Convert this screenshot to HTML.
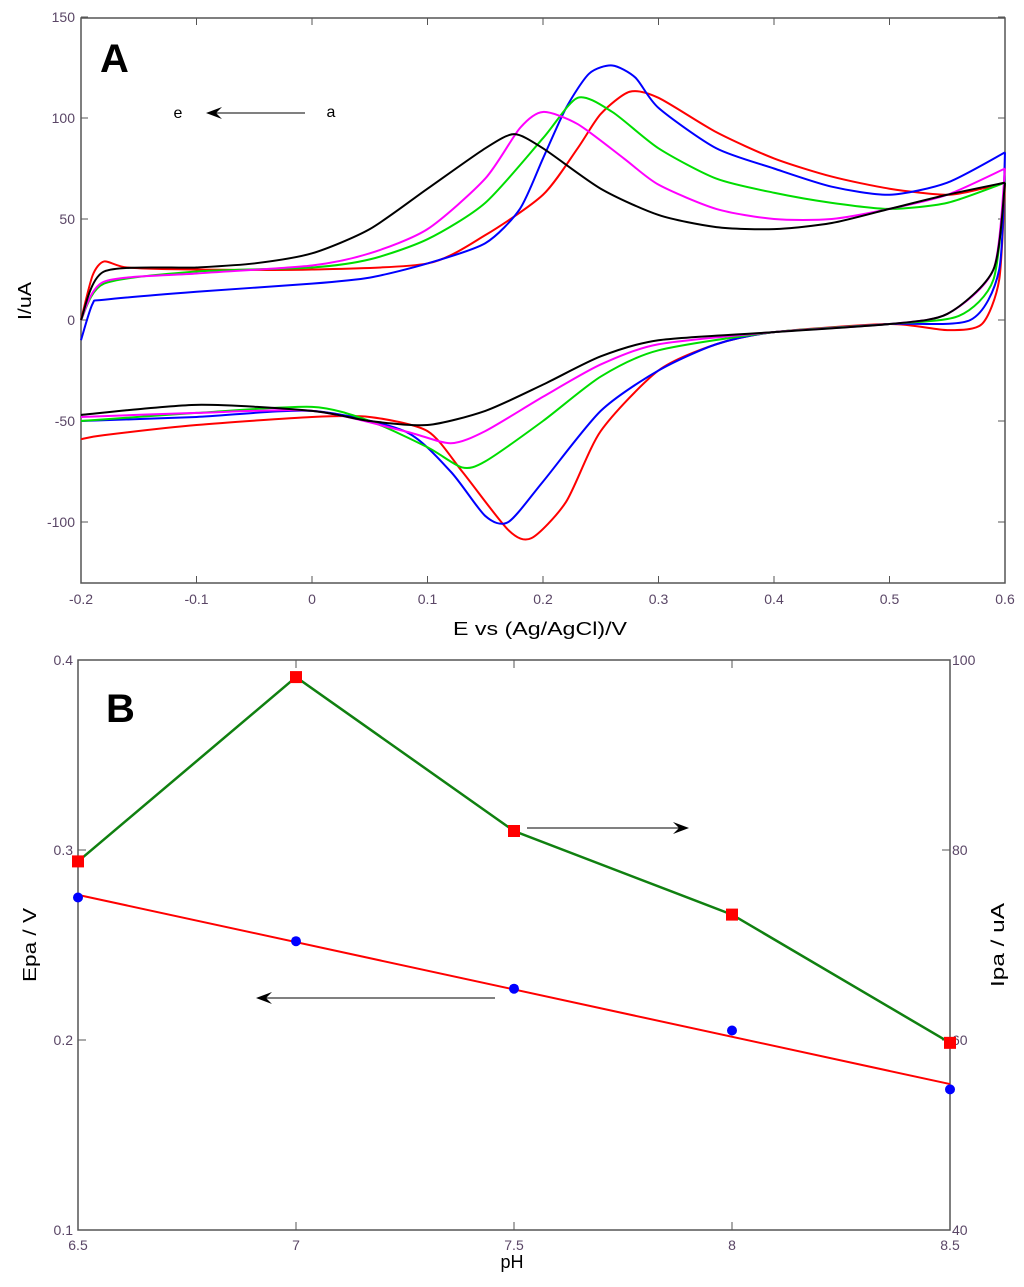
<!DOCTYPE html>
<html><head><meta charset="utf-8"><style>
body{margin:0;background:#fff;font-family:"Liberation Sans",sans-serif}
svg text{font-family:"Liberation Sans",sans-serif}
</style></head><body>
<svg id="chart" width="1024" height="1282" xmlns="http://www.w3.org/2000/svg">
<g id="pa"></g>
<g id="pb"></g>
</svg>
<script>
// Panel A data
const aXTicks=[-0.2,-0.1,0,0.1,0.2,0.3,0.4,0.5,0.6];
const aYTicks=[-100,-50,0,50,100,150];
const cvColors=["#ff0000","#0000ff","#00dd00","#ff00ff","#000000"];
const cvNames=["cv-a","cv-b","cv-c","cv-d","cv-e"];
const cvA=[[-0.2,0],[-0.19,22],[-0.18,29],[-0.16,26],[-0.1,25],[0,25],[0.1,28],[0.15,42],[0.2,62],[0.23,85],[0.25,102],[0.275,113],[0.3,110],[0.35,93],[0.4,80],[0.45,71],[0.5,65],[0.55,62],[0.58,65],[0.6,68],[0.595,20],[0.58,-2],[0.55,-5],[0.5,-2],[0.4,-6],[0.35,-12],[0.3,-25],[0.25,-55],[0.22,-90],[0.19,-108],[0.17,-104],[0.13,-75],[0.1,-55],[0.05,-48],[0,-48],[-0.1,-52],[-0.18,-57],[-0.2,-59]];
const cvB=[[-0.2,-10],[-0.19,8],[-0.18,10],[-0.1,14],[0,18],[0.05,21],[0.1,28],[0.15,38],[0.18,55],[0.2,80],[0.22,105],[0.24,122],[0.26,126],[0.28,120],[0.3,105],[0.35,85],[0.4,75],[0.45,66],[0.5,62],[0.55,68],[0.6,83],[0.595,25],[0.57,0],[0.5,-2],[0.4,-6],[0.35,-12],[0.3,-25],[0.25,-45],[0.2,-80],[0.17,-100],[0.15,-97],[0.12,-75],[0.08,-55],[0,-45],[-0.1,-48],[-0.2,-50]];
const cvC=[[-0.2,0],[-0.18,18],[-0.1,24],[0,26],[0.05,30],[0.1,40],[0.15,58],[0.2,90],[0.23,110],[0.26,103],[0.3,85],[0.35,70],[0.4,63],[0.45,58],[0.5,55],[0.55,58],[0.6,68],[0.59,20],[0.56,2],[0.5,-2],[0.4,-6],[0.3,-15],[0.25,-28],[0.2,-50],[0.15,-70],[0.13,-73],[0.1,-63],[0.05,-50],[0,-43],[-0.1,-46],[-0.2,-50]];
const cvD=[[-0.2,0],[-0.18,19],[-0.1,23],[0,27],[0.05,33],[0.1,45],[0.15,70],[0.18,95],[0.2,103],[0.23,97],[0.27,80],[0.3,67],[0.35,55],[0.4,50],[0.45,50],[0.5,55],[0.55,62],[0.6,75],[0.59,25],[0.55,3],[0.5,-2],[0.4,-6],[0.3,-12],[0.25,-22],[0.2,-38],[0.15,-55],[0.12,-61],[0.08,-55],[0,-45],[-0.1,-46],[-0.2,-48]];
const cvE=[[-0.2,0],[-0.18,24],[-0.1,26],[-0.05,28],[0,33],[0.05,45],[0.1,65],[0.15,85],[0.175,92],[0.2,85],[0.25,65],[0.3,52],[0.35,46],[0.4,45],[0.45,48],[0.5,55],[0.55,62],[0.6,68],[0.59,25],[0.55,3],[0.5,-2],[0.4,-6],[0.3,-10],[0.25,-18],[0.2,-32],[0.15,-45],[0.1,-52],[0.05,-50],[0,-45],[-0.1,-42],[-0.2,-47]];
// Panel B data
const pH=[6.5,7,7.5,8,8.5];
const ipa=[78.8,98.2,82,73.2,59.7];
const epa=[0.275,0.252,0.227,0.205,0.174];
const bXTicks=[6.5,7,7.5,8,8.5];
const bYLTicks=[0.1,0.2,0.3,0.4];
const bYRTicks=[40,60,80,100];

const NS="http://www.w3.org/2000/svg";
function mk(p,tag,at,txt){const e=document.createElementNS(NS,tag);for(const k in at)e.setAttribute(k,at[k]);if(txt!==undefined)e.textContent=txt;p.appendChild(e);return e;}
const tc="#5a4666";
// Panel A
const A=document.getElementById('pa');
const ax=v=>81+(v+0.2)/0.8*924, ay=v=>320-v*2.02;
mk(A,'rect',{x:81,y:18,width:924,height:565,fill:'none',stroke:'#555','stroke-width':1.5,});
aXTicks.forEach(t=>{const x=ax(t);
 mk(A,'line',{x1:x,y1:583,x2:x,y2:576,stroke:'#555',});
 mk(A,'line',{x1:x,y1:18,x2:x,y2:25,stroke:'#555',});
 mk(A,'text',{x:x,y:604,'font-size':14,fill:tc,'text-anchor':'middle',},String(t));});
aYTicks.forEach(t=>{const y=ay(t);
 mk(A,'line',{x1:81,y1:y,x2:88,y2:y,stroke:'#555',});
 mk(A,'line',{x1:1005,y1:y,x2:998,y2:y,stroke:'#555',});
 mk(A,'text',{x:75,y:y+5,'font-size':14,fill:tc,'text-anchor':'end',},String(t));});
mk(A,'text',{x:453,y:635,'font-size':18,textLength:174,lengthAdjust:'spacingAndGlyphs',},'E vs (Ag/AgCl)/V');
mk(A,'text',{x:31,y:301,'font-size':18,'text-anchor':'middle',textLength:38,lengthAdjust:'spacingAndGlyphs',transform:'rotate(-90 31 301)',},'I/uA');
mk(A,'text',{x:100,y:72,'font-size':40,'font-weight':'bold',},'A');
mk(A,'text',{x:178,y:118,'font-size':16,'text-anchor':'middle',},'e');
mk(A,'text',{x:331,y:117,'font-size':16,'text-anchor':'middle',},'a');
mk(A,'line',{x1:305,y1:113,x2:210,y2:113,stroke:'#000',});
mk(A,'path',{d:'M206 113 L222 107 L216 113 L222 119 Z',fill:'#000',});
function smooth(pts){let d='M'+pts[0][0]+' '+pts[0][1];for(let i=0;i<pts.length-1;i++){const p0=pts[Math.max(0,i-1)],p1=pts[i],p2=pts[i+1],p3=pts[Math.min(pts.length-1,i+2)];
 const k=8;
 d+=' C'+(p1[0]+(p2[0]-p0[0])/k)+' '+(p1[1]+(p2[1]-p0[1])/k)+' '+(p2[0]-(p3[0]-p1[0])/k)+' '+(p2[1]-(p3[1]-p1[1])/k)+' '+p2[0]+' '+p2[1];}return d;}
[cvA,cvB,cvC,cvD,cvE].forEach((c,i)=>{
 let m=0;c.forEach((q,j)=>{if(q[0]>c[m][0])m=j;});
 const fw=c.slice(0,m+1).map(q=>[ax(q[0]),ay(q[1])]);
 const rv=c.slice(m).map(q=>[ax(q[0]),ay(q[1])]);
 const p=mk(A,'path',{d:smooth(fw)+' '+smooth(rv),fill:'none',stroke:cvColors[i],'stroke-width':2,'stroke-linejoin':'round'});
 
 });
// Panel B
const B=document.getElementById('pb');
const bx=v=>78+(v-6.5)/2*872, byl=v=>660+(0.4-v)/0.3*570, byr=v=>660+(100-v)/60*570;
mk(B,'rect',{x:78,y:660,width:872,height:570,fill:'none',stroke:'#555','stroke-width':1.5,});
bXTicks.forEach(t=>{const x=bx(t);
 mk(B,'line',{x1:x,y1:1230,x2:x,y2:1222,stroke:'#555',});
 mk(B,'line',{x1:x,y1:660,x2:x,y2:668,stroke:'#555',});
 mk(B,'text',{x:x,y:1250,'font-size':14,fill:tc,'text-anchor':'middle',},String(t));});
bYLTicks.forEach(t=>{const y=byl(t);
 mk(B,'line',{x1:78,y1:y,x2:86,y2:y,stroke:'#555',});
 mk(B,'text',{x:73,y:y+5,'font-size':14,fill:tc,'text-anchor':'end',},t.toFixed(1));});
bYRTicks.forEach(t=>{const y=byr(t);
 mk(B,'line',{x1:950,y1:y,x2:942,y2:y,stroke:'#555',});
 mk(B,'text',{x:952,y:y+5,'font-size':14,fill:tc,},String(t));});
mk(B,'text',{x:512,y:1268,'font-size':18,'text-anchor':'middle',},'pH');
mk(B,'text',{x:36,y:945,'font-size':18,'text-anchor':'middle',textLength:74,lengthAdjust:'spacingAndGlyphs',transform:'rotate(-90 36 945)',},'Epa / V');
mk(B,'text',{x:1004,y:945,'font-size':18,'text-anchor':'middle',textLength:84,lengthAdjust:'spacingAndGlyphs',transform:'rotate(-90 1004 945)',},'Ipa / uA');
mk(B,'text',{x:106,y:722,'font-size':40,'font-weight':'bold',},'B');
mk(B,'line',{x1:527,y1:828,x2:685,y2:828,stroke:'#000',});
mk(B,'path',{d:'M689 828 L673 822 L679 828 L673 834 Z',fill:'#000',});
mk(B,'line',{x1:495,y1:998,x2:260,y2:998,stroke:'#000',});
mk(B,'path',{d:'M256 998 L272 992 L266 998 L272 1004 Z',fill:'#000',});
// linear fit of epa
const n=pH.length,mx=pH.reduce((a,b)=>a+b)/n,my=epa.reduce((a,b)=>a+b)/n;
let sxy=0,sxx=0;pH.forEach((x,i)=>{sxy+=(x-mx)*(epa[i]-my);sxx+=(x-mx)**2;});
const sl=sxy/sxx,ic=my-sl*mx;
mk(B,'line',{x1:bx(6.5),y1:byl(ic+sl*6.5),x2:bx(8.5),y2:byl(ic+sl*8.5),stroke:'#ff0000','stroke-width':2,});
mk(B,'polyline',{points:pH.map((p,i)=>bx(p)+','+byr(ipa[i])).join(' '),fill:'none',stroke:'#108010','stroke-width':2.5,});
pH.forEach((p,i)=>{
 const c=mk(B,'circle',{cx:bx(p),cy:byl(epa[i]),r:5,fill:'#0000ff'});
 
 
 const s=mk(B,'rect',{x:bx(p)-6,y:byr(ipa[i])-6,width:12,height:12,fill:'#ff0000'});
 
 
});
</script>
</body></html>
